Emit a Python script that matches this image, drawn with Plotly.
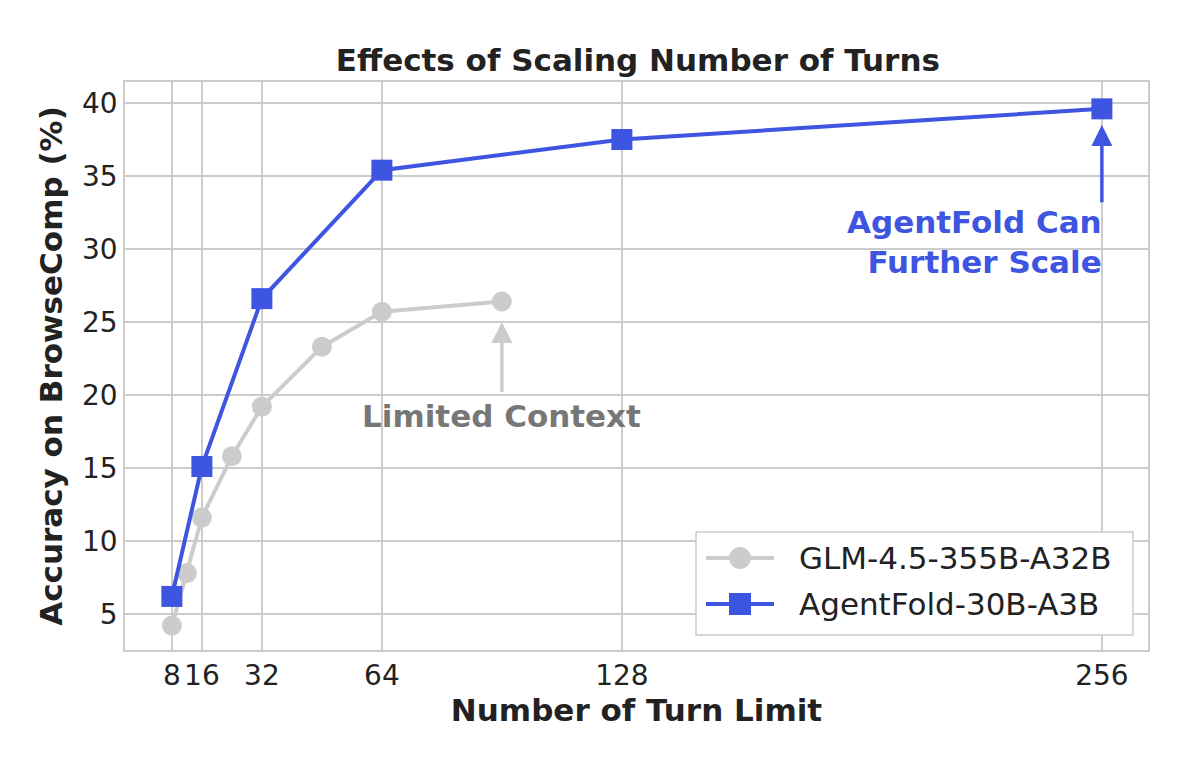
import plotly.graph_objects as go

glm_turns = [8, 12, 16, 24, 32, 48, 64, 96]
glm_acc = [4.2, 7.8, 11.6, 15.8, 19.2, 23.3, 25.7, 26.4]
af_turns = [8, 16, 32, 64, 128, 256]
af_acc = [6.2, 15.1, 26.6, 35.4, 37.5, 39.6]
x_ticks = [8, 16, 32, 64, 128, 256]
y_ticks = [5, 10, 15, 20, 25, 30, 35, 40]
series_names = ["GLM-4.5-355B-A32B", "AgentFold-30B-A3B"]

BLUE = "#3d55e0"
GRAY = "#cccccc"
FONT = "DejaVu Sans"

fig = go.Figure()
fig.add_trace(go.Scatter(x=glm_turns, y=glm_acc, mode="lines+markers",
                         name=series_names[0], showlegend=False,
                         line=dict(color=GRAY, width=4),
                         marker=dict(symbol="circle", size=20, color=GRAY)))
fig.add_trace(go.Scatter(x=af_turns, y=af_acc, mode="lines+markers",
                         name=series_names[1], showlegend=False,
                         line=dict(color=BLUE, width=4),
                         marker=dict(symbol="square", size=21, color=BLUE)))

# arrows
fig.add_annotation(x=96, y=25.0, ax=96, ay=20.1, xref="x", yref="y", axref="x", ayref="y",
                   text="", showarrow=True, arrowhead=2, arrowsize=1.2, arrowwidth=3.5,
                   arrowcolor=GRAY)
fig.add_annotation(x=96, y=18.55, xref="x", yref="y", text="<b>Limited Context</b>",
                   showarrow=False, font=dict(family=FONT, size=31, color="#777777"),
                   xanchor="center", yanchor="middle")
fig.add_annotation(x=256, y=38.5, ax=256, ay=33.1, xref="x", yref="y", axref="x", ayref="y",
                   text="", showarrow=True, arrowhead=2, arrowsize=1.2, arrowwidth=3.5,
                   arrowcolor=BLUE)
fig.add_annotation(x=256, y=30.45, xref="x", yref="y",
                   text="<b>AgentFold Can</b><br><b>Further Scale</b>",
                   showarrow=False, align="right",
                   font=dict(family=FONT, size=31, color=BLUE),
                   xanchor="right", yanchor="middle", xshift=2)

# custom legend (matplotlib-style, long handles)
PW, PH = 1023.0, 568.0
def px(xp):
    return (xp - 125) / PW
def py(yp):
    return (650 - yp) / PH

fig.add_shape(type="rect", xref="paper", yref="paper",
              x0=px(696), x1=px(1133), y0=py(635), y1=py(532),
              line=dict(color="#cccccc", width=1.5), fillcolor="white", layer="above")
rows = [558, 604]
colors = [GRAY, BLUE]
for i, (ry, col, nm) in enumerate(zip(rows, colors, series_names)):
    fig.add_shape(type="line", xref="paper", yref="paper",
                  x0=px(706), x1=px(774), y0=py(ry), y1=py(ry),
                  line=dict(color=col, width=4), layer="above")
    if i == 0:
        fig.add_shape(type="circle", xref="paper", yref="paper",
                      x0=px(729), x1=px(751), y0=py(ry + 11), y1=py(ry - 11),
                      line=dict(color=col, width=0), fillcolor=col, layer="above")
    else:
        fig.add_shape(type="rect", xref="paper", yref="paper",
                      x0=px(729), x1=px(751), y0=py(ry + 11), y1=py(ry - 11),
                      line=dict(color=col, width=0), fillcolor=col, layer="above")
    fig.add_annotation(x=px(797), y=py(ry), xref="paper", yref="paper", text=nm,
                       showarrow=False, xanchor="left", yanchor="middle",
                       font=dict(family=FONT, size=31, color="#222222"))

fig.update_layout(
    width=1184, height=756,
    margin=dict(l=117, r=44, t=74, b=114),
    paper_bgcolor="white", plot_bgcolor="white",
    font=dict(family=FONT, size=28, color="#222222"),
    title=dict(text="<b>Effects of Scaling Number of Turns</b>", x=0.532, xanchor="center",
               y=0.931, yanchor="middle", font=dict(family=FONT, size=31, color="#222222")),
    showlegend=False,
)
fig.update_xaxes(range=[-4.5, 268.3], tickmode="array", tickvals=x_ticks,
                 ticktext=[str(v) for v in x_ticks],
                 showgrid=True, gridcolor="#cccccc", gridwidth=1.5,
                 showline=True, linecolor="#cccccc", linewidth=1.5, mirror=True,
                 zeroline=False, ticks="", tickfont=dict(size=28),
                 title=dict(text="<b>Number of Turn Limit</b>", font=dict(size=31), standoff=6))
fig.update_yaxes(range=[2.53, 41.44], tickmode="array", tickvals=y_ticks,
                 showgrid=True, gridcolor="#cccccc", gridwidth=1.5,
                 showline=True, linecolor="#cccccc", linewidth=1.5, mirror=True,
                 zeroline=False, ticks="", tickfont=dict(size=28),
                 title=dict(text="<b>Accuracy on BrowseComp (%)</b>", font=dict(size=31), standoff=10))

fig.write_html("out.html")
